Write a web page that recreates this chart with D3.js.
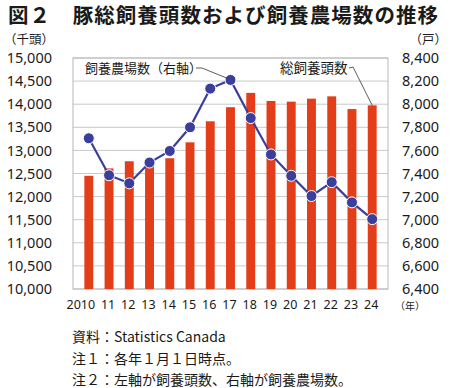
<!DOCTYPE html>
<html>
<head>
<meta charset="utf-8">
<script src="https://cdn.jsdelivr.net/npm/d3@7"></script>
<style>
  body { margin: 0; background: #fff; }
  text { font-family: "Noto Sans", "Noto Sans CJK JP", sans-serif; fill: #1a1a1a; }
  .jp { font-family: "Noto Sans CJK JP", sans-serif; }
</style>
</head>
<body>
<div id="chart"></div>
<script>
const years = ["2010", "11", "12", "13", "14", "15", "16", "17", "18", "19", "20", "21", "22", "23", "24"];
// total pigs (thousand head), left axis
const headCounts = [12450, 12610, 12765, 12680, 12830, 13175, 13630, 13935, 14245, 14070, 14055, 14120, 14170, 13895, 13975];
// number of farms, right axis
const farmCounts = [7705, 7385, 7315, 7495, 7595, 7800, 8135, 8210, 7880, 7565, 7380, 7205, 7325, 7150, 7005];
const leftTicks = [10000, 10500, 11000, 11500, 12000, 12500, 13000, 13500, 14000, 14500, 15000];
const rightTicks = [6400, 6600, 6800, 7000, 7200, 7400, 7600, 7800, 8000, 8200, 8400];

const width = 450, height = 388;
const plot = { left: 73, right: 388, top: 58, bottom: 289 };
const RED = "#e43d1a", NAVY = "#3a3f9c", GRID = "#c9c9c9";

const svg = d3.select("#chart").append("svg")
  .attr("width", width).attr("height", height);

const x = d3.scaleBand().domain(years).range([plot.left, plot.right]).padding(0.56);
const yL = d3.scaleLinear().domain([10000, 15000]).range([plot.bottom, plot.top]);
const yR = d3.scaleLinear().domain([6400, 8400]).range([plot.bottom, plot.top]);
const cx = (d) => x(d) + x.bandwidth() / 2;

// title
svg.append("text").attr("class", "jp")
  .attr("x", 8).attr("y", 23)
  .attr("font-size", 20.5).attr("font-weight", "bold")
  .attr("textLength", 430).attr("lengthAdjust", "spacing")
  .text("図２　豚総飼養頭数および飼養農場数の推移");

// unit labels
svg.append("text").attr("class", "jp").attr("x", 4).attr("y", 44)
  .attr("font-size", 12.5).text("（千頭）");
svg.append("text").attr("class", "jp").attr("x", 447).attr("y", 44)
  .attr("text-anchor", "end").attr("font-size", 12.5).text("（戸）");

// grid
svg.append("g").selectAll("line").data(leftTicks).join("line")
  .attr("x1", plot.left).attr("x2", plot.right)
  .attr("y1", (d) => yL(d)).attr("y2", (d) => yL(d))
  .attr("stroke", GRID).attr("stroke-width", 1);
svg.append("rect")
  .attr("x", plot.left).attr("y", plot.top)
  .attr("width", plot.right - plot.left).attr("height", plot.bottom - plot.top)
  .attr("fill", "none").attr("stroke", "#b8b8b8");

// axes
const leftAxis = svg.append("g").attr("transform", `translate(${plot.left - 21},0)`)
  .call(d3.axisLeft(yL).tickValues(leftTicks).tickFormat(d3.format(",")).tickSize(0).tickPadding(0));
const rightAxis = svg.append("g").attr("transform", `translate(${plot.right + 14},0)`)
  .call(d3.axisRight(yR).tickValues(rightTicks).tickFormat(d3.format(",")).tickSize(0).tickPadding(0));
const bottomAxis = svg.append("g").attr("transform", `translate(0,${plot.bottom + 9})`)
  .call(d3.axisBottom(x).tickSize(0).tickPadding(0));
[leftAxis, rightAxis].forEach((g) => {
  g.select(".domain").remove();
  g.selectAll("text").attr("font-size", 14.5).attr("fill", "#1a1a1a")
    .style("font-family", '"Noto Sans", sans-serif');
});
bottomAxis.select(".domain").remove();
bottomAxis.selectAll("text").attr("font-size", 12.5).attr("fill", "#1a1a1a")
  .attr("dy", "0.9em")
  .attr("dx", (d, i) => (i === 0 ? -8 : -1))
  .style("font-family", '"Noto Sans", sans-serif');
svg.append("text").attr("class", "jp").attr("x", 395).attr("y", 310)
  .attr("font-size", 10).text("（年）");

// bars
svg.append("g").selectAll("rect").data(years).join("rect")
  .attr("x", (d) => x(d)).attr("width", x.bandwidth())
  .attr("y", (d, i) => yL(headCounts[i]))
  .attr("height", (d, i) => yL(10000) - yL(headCounts[i]))
  .attr("fill", RED);

// line
const line = d3.line().x((d, i) => cx(years[i])).y((d) => yR(d));
svg.append("path").datum(farmCounts)
  .attr("d", line).attr("fill", "none")
  .attr("stroke", NAVY).attr("stroke-width", 2.2);
svg.append("g").selectAll("circle").data(farmCounts).join("circle")
  .attr("cx", (d, i) => cx(years[i])).attr("cy", (d) => yR(d))
  .attr("r", 5.5).attr("fill", NAVY)
  .attr("stroke", "#fff").attr("stroke-width", 1);

// annotations
svg.append("rect").attr("x", 82).attr("y", 59).attr("width", 118).attr("height", 18).attr("fill", "#fff");
svg.append("text").attr("class", "jp").attr("x", 85).attr("y", 73)
  .attr("font-size", 13).text("飼養農場数（右軸）");
svg.append("polyline")
  .attr("points", `196,68 202,68 ${cx("17") - 4},${yR(farmCounts[7]) - 2}`)
  .attr("fill", "none").attr("stroke", "#333").attr("stroke-width", 0.8);
svg.append("rect").attr("x", 278).attr("y", 59).attr("width", 74).attr("height", 18).attr("fill", "#fff");
svg.append("text").attr("class", "jp").attr("x", 280).attr("y", 73)
  .attr("font-size", 13.5).text("総飼養頭数");
svg.append("polyline")
  .attr("points", `349,68 353,67 ${cx("24")},${yL(headCounts[14])}`)
  .attr("fill", "none").attr("stroke", "#333").attr("stroke-width", 0.8);

// notes
const notes = ["資料：Statistics Canada", "注１：各年１月１日時点。", "注２：左軸が飼養頭数、右軸が飼養農場数。"];
svg.append("g").selectAll("text").data(notes).join("text")
  .attr("class", "jp").attr("x", 72).attr("y", (d, i) => 342 + i * 21.5)
  .attr("font-size", 14).text((d) => d);
</script>
</body>
</html>
